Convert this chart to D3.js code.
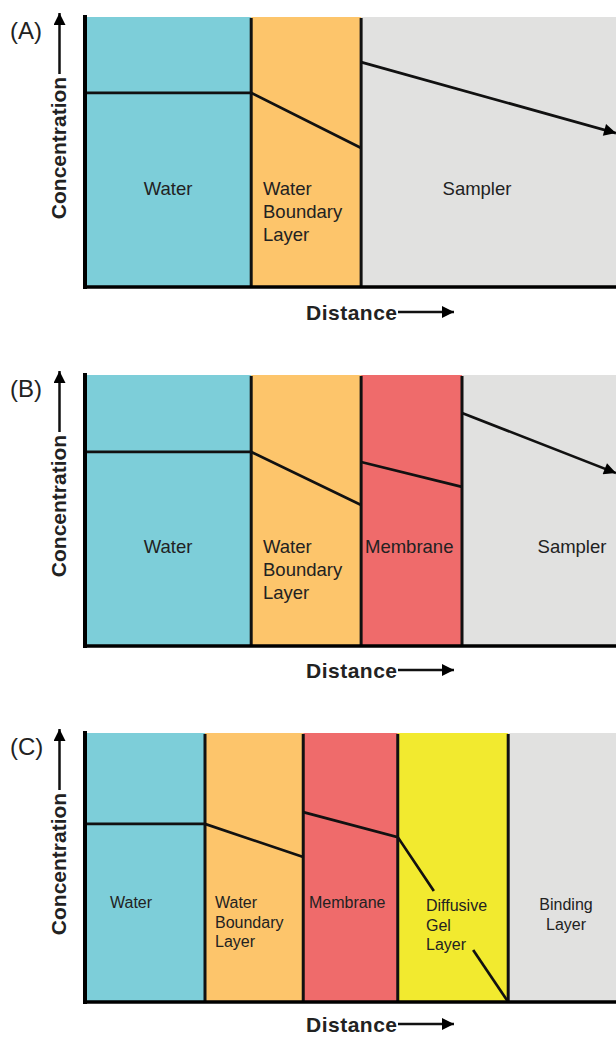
<!DOCTYPE html>
<html><head><meta charset="utf-8">
<script src="https://cdn.jsdelivr.net/npm/d3@7"></script>
<style>html,body{margin:0;padding:0;background:#fff;}svg{display:block;}</style>
</head><body>
<script>
// ---------- DATA ----------
const panelIds = ["(A)", "(B)", "(C)"];

// layer names per panel
const layersA = ["Water", "Water\nBoundary\nLayer", "Sampler"];
const layersB = ["Water", "Water\nBoundary\nLayer", "Membrane", "Sampler"];
const layersC = ["Water", "Water\nBoundary\nLayer", "Membrane", "Diffusive\nGel\nLayer", "Binding\nLayer"];

// layer boundaries (distance, 0-100)
const boundsA = [0, 31.3, 52.0, 100];
const boundsB = [0, 31.3, 52.0, 71.0, 100];
const boundsC = [0, 22.6, 41.1, 58.9, 79.7, 100];

// concentration profiles (distance, concentration 0-100); segments
const profileA = [
  [[0, 71.9], [31.3, 71.9], [52.0, 51.5]],
  [[52.0, 83.3], [100, 57.0]]
];
const profileB = [
  [[0, 71.6], [31.3, 71.6], [52.0, 52.0]],
  [[52.0, 67.9], [71.0, 58.7]],
  [[71.0, 86.0], [100, 63.8]]
];
const profileC = [
  [[0, 66.2], [22.6, 66.2], [41.1, 53.9]],
  [[41.1, 70.6], [58.9, 61.3], [65.7, 41.3]],
  [[73.1, 19.3], [79.7, 0]]
];
// index of the segment ending with an arrow head (-1 = none)
const arrowSegA = 1, arrowSegB = 2, arrowSegC = -1;

const axisTitleY = "Concentration";
const axisTitleX = "Distance";

// ---------- STYLE / LAYOUT ----------
const colorOf = {
  "Water": "#7dced9",
  "Water\nBoundary\nLayer": "#fdc56b",
  "Membrane": "#ef6b6b",
  "Diffusive\nGel\nLayer": "#f2ea2f",
  "Sampler": "#e1e1e0",
  "Binding\nLayer": "#e1e1e0"
};
const FONT = "'Liberation Sans', Arial, Helvetica, sans-serif";

const panels = [
  { id: panelIds[0], layers: layersA, bounds: boundsA, profile: profileA, arrowSeg: arrowSegA,
    top: 17, bottom: 287, fs: 18.5, lh: 23, tb: 33,
    labels: [{x:168, a:"middle", y:178}, {x:263, a:"start", y:178}, {x:477, a:"middle", y:178}] },
  { id: panelIds[1], layers: layersB, bounds: boundsB, profile: profileB, arrowSeg: arrowSegB,
    top: 375, bottom: 646, fs: 18.5, lh: 23, tb: 32,
    labels: [{x:168, a:"middle", y:178}, {x:263, a:"start", y:178}, {x:365, a:"start", y:178}, {x:572, a:"middle", y:178}] },
  { id: panelIds[2], layers: layersC, bounds: boundsC, profile: profileC, arrowSeg: arrowSegC,
    top: 733, bottom: 1002, fs: 16, lh: 19.5, tb: 30,
    labels: [{x:110, a:"start", y:175}, {x:215, a:"start", y:175}, {x:309, a:"start", y:175}, {x:426, a:"start", y:178}, {x:566, a:"middle", y:177}] }
];

const W = 616, H = 1037;
const svg = d3.select("body").append("svg").attr("width", W).attr("height", H)
  .style("font-family", FONT);

const defs = svg.append("defs");
defs.append("marker").attr("id", "ah").attr("viewBox", "0 0 10 10")
  .attr("refX", 10).attr("refY", 5).attr("markerUnits", "userSpaceOnUse")
  .attr("markerWidth", 15).attr("markerHeight", 12).attr("orient", "auto")
  .append("path").attr("d", "M0,0 L10,5 L0,10 Z").attr("fill", "#000");
defs.append("marker").attr("id", "ah2").attr("viewBox", "0 0 10 10")
  .attr("refX", 10).attr("refY", 5).attr("markerUnits", "userSpaceOnUse")
  .attr("markerWidth", 16).attr("markerHeight", 12).attr("orient", "auto")
  .append("path").attr("d", "M0,0 L10,5 L0,10 Z").attr("fill", "#000");

panels.forEach(p => {
  const x = d3.scaleLinear().domain([0, 100]).range([85, 616]);
  const y = d3.scaleLinear().domain([0, 100]).range([p.bottom, p.top]);
  const g = svg.append("g");

  // layer fills
  const layerData = p.layers.map((name, i) => ({ name, x0: p.bounds[i], x1: p.bounds[i + 1], i }));
  g.selectAll("rect.layer").data(layerData).join("rect")
    .attr("x", d => x(d.x0)).attr("width", d => x(d.x1) - x(d.x0))
    .attr("y", y(100)).attr("height", y(0) - y(100))
    .attr("fill", d => colorOf[d.name]);

  // dividers
  g.selectAll("line.div").data(p.bounds.slice(1, -1)).join("line")
    .attr("x1", d => x(d)).attr("x2", d => x(d))
    .attr("y1", y(100) + 1).attr("y2", y(0))
    .attr("stroke", "#111").attr("stroke-width", 3);

  // concentration profile
  const line = d3.line().x(d => x(d[0])).y(d => y(d[1]));
  p.profile.forEach((seg, i) => {
    g.append("path").attr("d", line(seg)).attr("fill", "none")
      .attr("stroke", "#111").attr("stroke-width", 2.7)
      .attr("stroke-linejoin", "miter")
      .attr("marker-end", i === p.arrowSeg ? "url(#ah)" : null);
  });

  // axes (left & bottom)
  g.append("line").attr("x1", 85).attr("x2", 85).attr("y1", y(100) - 2).attr("y2", y(0) + 2)
    .attr("stroke", "#000").attr("stroke-width", 4);
  g.append("line").attr("x1", 83).attr("x2", W).attr("y1", y(0)).attr("y2", y(0))
    .attr("stroke", "#000").attr("stroke-width", 3.5);

  // layer labels
  layerData.forEach((d, i) => {
    const L = p.labels[i];
    const t = g.append("text").attr("x", L.x).attr("y", p.top + L.y)
      .attr("text-anchor", L.a).attr("font-size", p.fs).attr("fill", "#222");
    d.name.split("\n").forEach((s, k) => {
      t.append("tspan").attr("x", L.x).attr("y", p.top + L.y + k * p.lh).text(s);
    });
  });

  // panel id
  g.append("text").attr("x", 10).attr("y", p.top + 22).attr("font-size", 24)
    .attr("fill", "#222").text(p.id);

  // y axis title with arrow
  const cy = p.top + 131;
  g.append("text").attr("transform", `translate(66,${cy}) rotate(-90)`)
    .attr("text-anchor", "middle").attr("font-size", 21).attr("font-weight", "bold")
    .attr("fill", "#222").text(axisTitleY);
  g.append("line").attr("x1", 59.5).attr("x2", 59.5).attr("y1", cy - 74).attr("y2", p.top - 4)
    .attr("stroke", "#111").attr("stroke-width", 2.5).attr("marker-end", "url(#ah2)");

  // x axis title with arrow
  const by = p.bottom + p.tb;
  g.append("text").attr("x", 306).attr("y", by).attr("font-size", 21).attr("font-weight", "bold")
    .attr("fill", "#222").attr("textLength", 91).text(axisTitleX);
  g.append("line").attr("x1", 398).attr("x2", 454).attr("y1", by - 8).attr("y2", by - 8)
    .attr("stroke", "#111").attr("stroke-width", 2.5).attr("marker-end", "url(#ah2)");
});
</script>
</body></html>
